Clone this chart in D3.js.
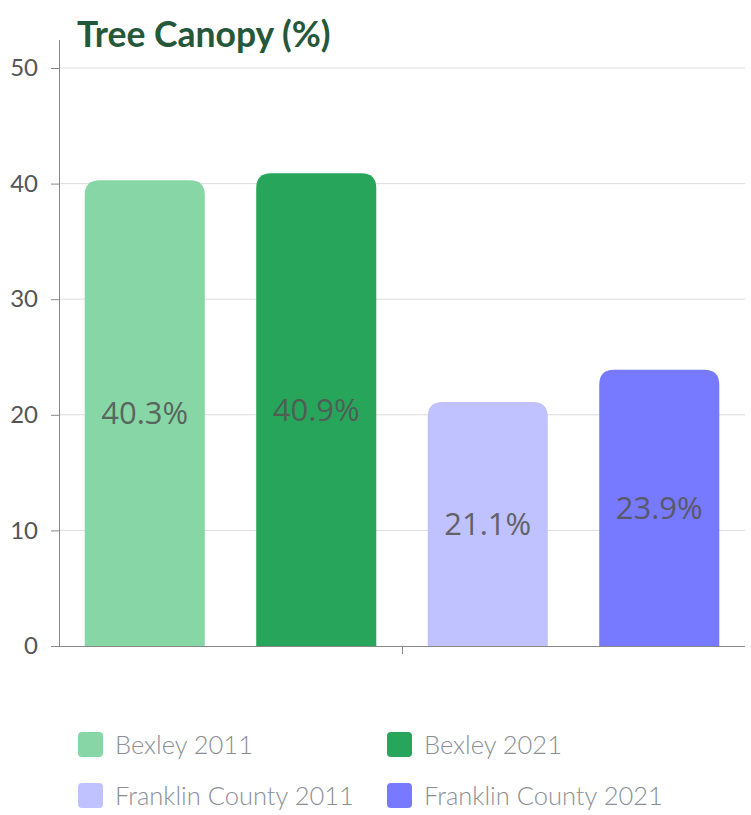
<!DOCTYPE html>
<html><head><meta charset="utf-8">
<script src="https://cdn.jsdelivr.net/npm/d3@7"></script>
<style>body{margin:0;background:#fff}svg{display:block}</style>
</head><body>
<svg id="c" width="751" height="815"></svg>
<script>
const title = "Tree Canopy (%)";
const series = ["Bexley 2011", "Bexley 2021", "Franklin County 2011", "Franklin County 2021"];
const values = [40.3, 40.9, 21.1, 23.9];
const colors = ["#86d7a5", "#27a55b", "#c0c1ff", "#7779ff"];
const yTicks = [0, 10, 20, 30, 40, 50];

const svg = d3.select("#c");
const L = 59, R = 745, T = 68, B = 646;
const x = d3.scaleBand().domain(series).range([L, R]).paddingInner(0.3).paddingOuter(0.15);
const y = d3.scaleLinear().domain([0, 50]).range([B, T]);

// gridlines
svg.append("g").selectAll("line").data(yTicks.filter(d => d > 0)).join("line")
  .attr("x1", L).attr("x2", R).attr("y1", d => y(d)).attr("y2", d => y(d))
  .attr("stroke", "#dcdcdc").attr("stroke-width", 1);

// y axis
const ya = svg.append("g").attr("transform", `translate(${L},0)`)
  .call(d3.axisLeft(y).tickValues(yTicks).tickSize(8).tickPadding(13).tickSizeOuter(0));
ya.select(".domain").attr("stroke", "#888").attr("d", `M0.5,${B}V${T - 28}`);
ya.selectAll(".tick line").attr("stroke", "#888");
ya.selectAll("text").attr("font-family", "Lato, sans-serif").attr("font-size", 24).attr("fill", "#555");

// bars
const r = 15;
function topRounded(x0, y0, w, h) {
  const rr = Math.min(r, h, w / 2);
  return `M${x0},${y0 + h}V${y0 + rr}Q${x0},${y0} ${x0 + rr},${y0}H${x0 + w - rr}Q${x0 + w},${y0} ${x0 + w},${y0 + rr}V${y0 + h}Z`;
}
svg.append("g").selectAll("path").data(series).join("path")
  .attr("d", (d, i) => topRounded(x(d), y(values[i]), x.bandwidth(), B - y(values[i])))
  .attr("fill", (d, i) => colors[i]);

// x axis
svg.append("line").attr("x1", L - 8).attr("x2", R).attr("y1", B + 0.5).attr("y2", B + 0.5).attr("stroke", "#888");
svg.append("line").attr("x1", (L + R) / 2 + 0.5).attr("x2", (L + R) / 2 + 0.5).attr("y1", B).attr("y2", B + 8).attr("stroke", "#888");

// value labels
svg.append("g").selectAll("text").data(series).join("text")
  .attr("x", d => x(d) + x.bandwidth() / 2)
  .attr("y", (d, i) => y(values[i] / 2))
  .attr("dy", "0.36em")
  .attr("text-anchor", "middle")
  .attr("font-family", "'Open Sans', sans-serif").attr("font-size", 31)
  .attr("fill", "#555").attr("fill-opacity", 0.9)
  .text((d, i) => values[i].toFixed(1) + "%");

// title
svg.append("text").attr("x", 77).attr("y", 47)
  .attr("font-family", "Lato, sans-serif").attr("font-weight", 700).attr("font-size", 35.5)
  .attr("fill", "#25573a").text(title);

// legend
const lx = [78, 387], ly = [732, 783];
const lg = svg.append("g").selectAll("g").data(series).join("g")
  .attr("transform", (d, i) => `translate(${lx[i % 2]},${ly[Math.floor(i / 2)]})`);
lg.append("rect").attr("width", 25).attr("height", 25).attr("rx", 4).attr("fill", (d, i) => colors[i]);
lg.append("text").attr("x", 37).attr("y", 12.5).attr("dy", "0.36em")
  .attr("font-family", "Lato, sans-serif").attr("font-weight", 300).attr("font-size", 25.5)
  .attr("fill", "#8a8f95").text(d => d);
</script>
</body></html>
